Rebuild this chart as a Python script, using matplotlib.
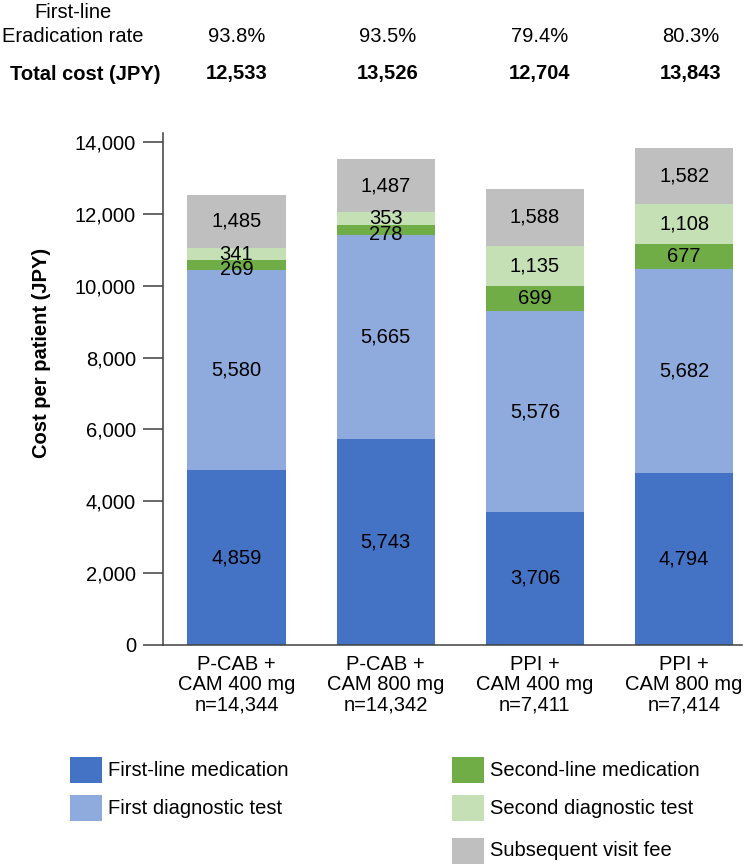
import matplotlib
matplotlib.use("Agg")
import matplotlib.pyplot as plt
from matplotlib.patches import Rectangle
from matplotlib.ticker import FuncFormatter
from matplotlib.transforms import blended_transform_factory
import numpy as np

plt.rcParams["font.family"] = ["Liberation Sans", "DejaVu Sans"]
FS = 14.5

# ---------------------------------------------------------
# Data
# ---------------------------------------------------------
groups = ["P-CAB +\nCAM 400 mg\nn=14,344", "P-CAB +\nCAM 800 mg\nn=14,342",
          "PPI +\nCAM 400 mg\nn=7,411", "PPI +\nCAM 800 mg\nn=7,414"]
eradication = ["93.8%", "93.5%", "79.4%", "80.3%"]
total_cost = ["12,533", "13,526", "12,704", "13,843"]

first_med = [4859, 5743, 3706, 4794]
first_test = [5580, 5665, 5576, 5682]
second_med = [269, 278, 699, 677]
second_test = [341, 353, 1135, 1108]
visit_fee = [1485, 1487, 1588, 1582]

series = [first_med, first_test, second_med, second_test, visit_fee]
names = ["First-line medication", "First diagnostic test", "Second-line medication",
         "Second diagnostic test", "Subsequent visit fee"]
colors = ["#4472C4", "#8FAADC", "#70AD47", "#C5E0B4", "#BFBFBF"]

# ---------------------------------------------------------
# Figure
# ---------------------------------------------------------
W, H = 744, 866
fig = plt.figure(figsize=(W / 100, H / 100), dpi=100)
ax = fig.add_axes([163 / W, 1 - 645 / H, 579 / W, 512 / H])

x = np.arange(len(groups))
bottom = np.zeros(len(groups))
for k, (vals, col) in enumerate(zip(series, colors)):
    vals = np.array(vals, dtype=float)
    ax.bar(x, vals, 0.657, bottom=bottom, color=col, edgecolor="none")
    for xi, b, v in zip(x, bottom, vals):
        # thin second-line segments: nudge label down a little, as in the source
        dy = -4 if (k == 2 and v < 400) else 0
        ax.annotate(f"{int(v):,}", (xi, b + v / 2), xytext=(0, dy),
                    textcoords="offset pixels", ha="center", va="center",
                    fontsize=FS, color="black")
    bottom += vals

ax.set_xlim(-0.4926, 3.388)
ax.set_ylim(0, 14250)
ax.set_yticks(np.arange(0, 14001, 2000))
ax.yaxis.set_major_formatter(FuncFormatter(lambda v, p: f"{int(v):,}"))
ax.set_xticks(x)
ax.set_xticklabels(groups, fontsize=FS, linespacing=1.1)
ax.tick_params(axis="x", length=0, pad=7)
ax.tick_params(axis="y", labelsize=FS, length=14.5, width=1.1, pad=5,
               color="#404040")
for s in ["top", "right"]:
    ax.spines[s].set_visible(False)
for s in ["left", "bottom"]:
    ax.spines[s].set_color("#404040")
    ax.spines[s].set_linewidth(1.1)

fig.text(42 / W, 1 - 353 / H, "Cost per patient (JPY)", rotation=90,
         ha="center", va="center", fontsize=FS, fontweight="bold")

# ---------------------------------------------------------
# Header rows above the bars
# ---------------------------------------------------------
hdr = blended_transform_factory(ax.transData, fig.transFigure)
fig.text(73 / W, 1 - 12 / H, "First-line", ha="center", va="center", fontsize=FS)
fig.text(73 / W, 1 - 36 / H, "Eradication rate", ha="center", va="center",
         fontsize=FS)
fig.text(85 / W, 1 - 74 / H, "Total cost (JPY)", ha="center", va="center",
         fontsize=FS, fontweight="bold")
for xi, er, tc in zip(x, eradication, total_cost):
    fig.text(xi * 1.015, 1 - 36 / H, er, transform=hdr, ha="center",
             va="center", fontsize=FS)
    fig.text(xi * 1.015, 1 - 74 / H, tc, transform=hdr, ha="center",
             va="center", fontsize=FS, fontweight="bold")

# ---------------------------------------------------------
# Legend (two columns, drawn manually)
# ---------------------------------------------------------
legend_pos = [(70, 770), (70, 808), (452, 770), (452, 808), (452, 851)]
for (px, py), name, col in zip(legend_pos, names, colors):
    fig.add_artist(Rectangle((px / W, 1 - (py + 13) / H), 32 / W, 26 / H,
                             transform=fig.transFigure, facecolor=col,
                             edgecolor="none"))
    fig.text((px + 38) / W, 1 - py / H, name, ha="left", va="center",
             fontsize=FS)

fig.savefig("out.png", dpi=100)
